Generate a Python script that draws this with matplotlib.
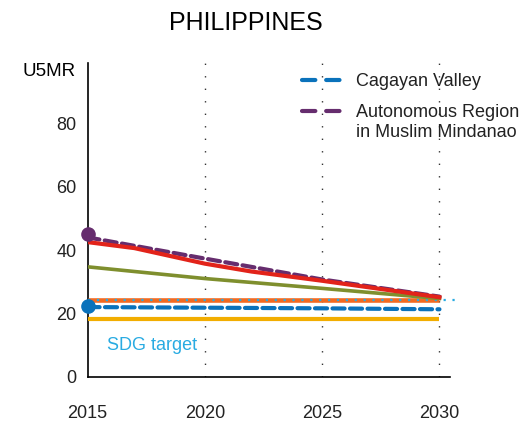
import matplotlib
matplotlib.use("Agg")
import matplotlib.pyplot as plt
from matplotlib.lines import Line2D

plt.rcParams['font.family'] = ['Liberation Sans', 'DejaVu Sans']

title = "PHILIPPINES"
y_label = "U5MR"
x_ticks = [2015, 2020, 2025, 2030]
y_ticks = [0, 20, 40, 60, 80]

red_years = [2015, 2017, 2020, 2022, 2025, 2030]
red_vals = [42.5, 40.6, 35.7, 33.2, 30.3, 25.1]

purple_years = [2015, 2020, 2025, 2030]
purple_vals = [44.0, 37.3, 30.7, 25.3]
purple_2015 = 45.0

olive_years = [2015, 2020, 2025, 2030]
olive_vals = [34.7, 31.0, 27.9, 24.7]

blue_years = [2015, 2020, 2025, 2030]
blue_vals = [22.0, 21.8, 21.6, 21.3]
blue_2015 = 22.4

orange_years = [2015, 2030]
orange_vals = [24.2, 24.2]

yellow_years = [2015, 2030]
yellow_vals = [18.1, 18.1]

sdg_years = [2015, 2030.7]
sdg_vals = [24.2, 24.2]
sdg_label = "SDG target"

legend_labels = ["Cagayan Valley", "Autonomous Region"]
legend_label_cont = "in Muslim Mindanao"

C_RED = "#e2231a"
C_PURPLE = "#662d6e"
C_OLIVE = "#7f8f2e"
C_BLUE = "#0a72bb"
C_ORANGE = "#f26a21"
C_YELLOW = "#f2ad00"
C_CYAN = "#29abe2"
C_TEXT = "#222222"

fig = plt.figure(figsize=(5.30, 4.23), dpi=100)
ax = fig.add_axes([87.5/530, 46.2/423, (450-87.5)/530, (360-46.2)/423])
ax.set_xlim(2015, 2030.45)
ax.set_ylim(0, 99)

for s in ["top", "right"]:
    ax.spines[s].set_visible(False)
for s in ["left", "bottom"]:
    ax.spines[s].set_linewidth(1.2)
    ax.spines[s].set_color("black")

# vertical dotted gridlines
for x in x_ticks[1:]:
    ax.axvline(x, color="#333333", lw=1.0, linestyle=(0, (1, 8)), zorder=1)

ax.plot(yellow_years, yellow_vals, color=C_YELLOW, lw=3.0, solid_capstyle="butt", zorder=3)
ax.plot(orange_years, orange_vals, color=C_ORANGE, lw=3.3, solid_capstyle="butt", zorder=3)
ax.plot(sdg_years, sdg_vals, color=C_CYAN, lw=1.6, linestyle=(0, (1, 3)),
        zorder=4, clip_on=False)
ax.plot(blue_years, blue_vals, color=C_BLUE, lw=3.0, linestyle=(0, (2.9, 1.3)),
        dash_capstyle="round", zorder=4)
ax.plot(olive_years, olive_vals, color=C_OLIVE, lw=2.6, zorder=4)
ax.plot(purple_years, purple_vals, color=C_PURPLE, lw=3.0, linestyle=(0, (2.9, 1.3)),
        dash_capstyle="round", zorder=5)
ax.plot(red_years, red_vals, color=C_RED, lw=3.0, zorder=6)

ax.plot([2015], [purple_2015], "o", color=C_PURPLE, ms=9.5, zorder=8, clip_on=False)
ax.plot([2015], [blue_2015], "o", color=C_BLUE, ms=9.5, zorder=8, clip_on=False)

ax.text(2015.83, 10.0, sdg_label, color=C_CYAN, fontsize=13, ha="left", va="center")

ax.set_xticks(x_ticks)
ax.set_xticklabels([str(x) for x in x_ticks])
ax.set_yticks(y_ticks)
ax.set_yticklabels([str(y) for y in y_ticks])
ax.tick_params(axis="x", length=0, pad=20, labelsize=13, colors=C_TEXT)
ax.tick_params(axis="y", length=0, pad=8, labelsize=13, colors=C_TEXT)
for lab in ax.get_yticklabels():
    lab.set_va("center_baseline")

fig.text(245.5/530, 1 - 22.5/423, title, fontsize=18, ha="center", va="center")
fig.text(76/530, 1 - 71/423, y_label, fontsize=13.5, ha="right", va="center")

handles = [
    Line2D([], [], color=C_BLUE, lw=3.0, linestyle=(0, (3.2, 2.6)), dash_capstyle="round"),
    Line2D([], [], color=C_PURPLE, lw=3.0, linestyle=(0, (3.2, 2.6)), dash_capstyle="round"),
]
leg = fig.legend(handles, legend_labels, loc="upper left",
                 bbox_to_anchor=(302/530, 1 - 73/423), frameon=False,
                 fontsize=13, handlelength=2.2, handletextpad=0.8,
                 labelspacing=0.8, borderpad=0, borderaxespad=0)
for t in leg.get_texts():
    t.set_color(C_TEXT)

fig.canvas.draw()
bb = leg.get_texts()[1].get_window_extent(fig.canvas.get_renderer())
fig.text(bb.x0 / fig.bbox.width, (bb.y0 - 19.5) / fig.bbox.height, legend_label_cont,
         fontsize=13, color=C_TEXT, ha="left", va="bottom")

fig.savefig("out.png", dpi=100)
